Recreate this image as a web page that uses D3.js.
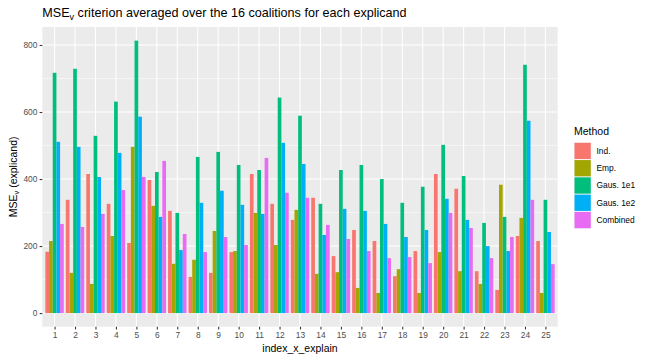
<!DOCTYPE html>
<html>
<head>
<meta charset="utf-8">
<script src="https://cdn.jsdelivr.net/npm/d3@7"></script>
<style>
  html, body { margin: 0; padding: 0; background: #fff; }
  svg { display: block; font-family: "Liberation Sans", Arial, Helvetica, sans-serif; }
</style>
</head>
<body>
<svg id="chart" width="648" height="360"></svg>
<script>
// ---- data ----
const categories = d3.range(1, 26).map(String);
const methods = ["Ind.", "Emp.", "Gaus. 1e1", "Gaus. 1e2", "Combined"];
const colors = ["#F8766D", "#A3A500", "#00BF7D", "#00B0F6", "#E76BF3"];
const indValues  = [183,338,415,326,209,397,305,108,120,182,415,326,278,344,170,248,215,110,185,415,371,125,69,230,215];
const empValues  = [215,120,87,230,496,320,147,159,245,185,299,203,308,117,122,75,60,131,60,182,125,87,383,284,60];
const gaus1Values = [717,729,529,631,813,421,299,466,481,442,427,643,589,326,427,442,400,329,377,502,409,269,287,741,338];
const gaus2Values = [511,496,406,478,586,287,188,329,365,323,296,508,445,233,311,305,266,227,248,341,278,200,185,574,242];
const combValues = [266,257,296,367,406,454,236,182,227,203,463,359,344,263,221,185,164,167,149,299,254,164,227,338,146];
const yTicks = [0, 200, 400, 600, 800];
const yMinor = [100, 300, 500, 700];

const series = [indValues, empValues, gaus1Values, gaus2Values, combValues];

// ---- layout ----
const svg = d3.select("#chart");
const P = { left: 42.3, right: 557.7, top: 27, bottom: 326.7 };
const textCol = "#4D4D4D";

const ymax = d3.max(series.flat());
const y = d3.scaleLinear().domain([-0.05 * ymax, 1.05 * ymax]).range([P.bottom, P.top]);
const x = d3.scaleBand().domain(categories).range([P.left, P.right]).paddingOuter(0.1).paddingInner(0);
// ggplot discrete expansion: 0.6 units each side -> band step w/ outer 0.1 plus half band
const step = (P.right - P.left) / 25.2;
const xc = d => P.left + 0.6 * step + (+d - 1) * step;
const inner = d3.scaleBand().domain(d3.range(5)).range([-0.45 * step, 0.45 * step]);

// panel
svg.append("rect").attr("x", P.left).attr("y", P.top)
  .attr("width", P.right - P.left).attr("height", P.bottom - P.top).attr("fill", "#EBEBEB");

// grid
const g = svg.append("g");
yMinor.forEach(v => g.append("line").attr("x1", P.left).attr("x2", P.right)
  .attr("y1", y(v)).attr("y2", y(v)).attr("stroke", "#fff").attr("stroke-width", 0.53));
yTicks.forEach(v => g.append("line").attr("x1", P.left).attr("x2", P.right)
  .attr("y1", y(v)).attr("y2", y(v)).attr("stroke", "#fff").attr("stroke-width", 1.07));
categories.forEach(c => g.append("line").attr("x1", xc(c)).attr("x2", xc(c))
  .attr("y1", P.top).attr("y2", P.bottom).attr("stroke", "#fff").attr("stroke-width", 1.07));

// bars
series.forEach((vals, si) => {
  svg.append("g").selectAll("rect").data(vals).join("rect")
    .attr("x", (v, i) => xc(categories[i]) + inner(si))
    .attr("width", inner.bandwidth())
    .attr("y", v => y(v))
    .attr("height", v => y(0) - y(v))
    .attr("fill", colors[si]);
});

// y axis
const yAxis = d3.axisLeft(y).tickValues(yTicks).tickSize(2.7).tickPadding(2.2);
const ya = svg.append("g").attr("transform", `translate(${P.left},0)`).call(yAxis);
ya.select(".domain").remove();
ya.selectAll(".tick line").attr("stroke", "#333333").attr("stroke-width", 1.07);
ya.selectAll(".tick text").attr("fill", textCol).attr("font-size", 8.4).attr("font-family", null);

// x axis
const xScaleForAxis = d3.scalePoint().domain(categories).range([xc("1"), xc("25")]);
const xAxis = d3.axisBottom(xScaleForAxis).tickSize(2.7).tickPadding(2.2);
const xa = svg.append("g").attr("transform", `translate(0,${P.bottom})`).call(xAxis);
xa.select(".domain").remove();
xa.selectAll(".tick line").attr("stroke", "#333333").attr("stroke-width", 1.07);
xa.selectAll(".tick text").attr("fill", textCol).attr("font-size", 8.4).attr("font-family", null);

// titles
const title = svg.append("text").attr("x", P.left).attr("y", 17).attr("font-size", 12.6).attr("fill", "#000");
title.append("tspan").text("MSE");
title.append("tspan").attr("dy", 3).attr("font-size", 9).text("v");
title.append("tspan").attr("dy", -3).text(" criterion averaged over the 16 coalitions for each explicand");

svg.append("text").attr("x", (P.left + P.right) / 2).attr("y", 352)
  .attr("text-anchor", "middle").attr("font-size", 10.5).attr("fill", "#000").text("index_x_explain");

const yt = svg.append("text").attr("transform", `translate(16.5,${(P.top + P.bottom) / 2}) rotate(-90)`)
  .attr("text-anchor", "middle").attr("font-size", 10.5).attr("fill", "#000");
yt.append("tspan").text("MSE");
yt.append("tspan").attr("dy", 2.5).attr("font-size", 7.5).text("v");
yt.append("tspan").attr("dy", -2.5).text(" (explicand)");

// legend
const lg = svg.append("g").attr("transform", "translate(574,0)");
lg.append("text").attr("x", 0).attr("y", 135).attr("font-size", 10.5).attr("fill", "#000").text("Method");
const keyH = 17.28, keyTop = 142.3;
methods.forEach((m, i) => {
  lg.append("rect").attr("x", 0).attr("y", keyTop + i * keyH).attr("width", 17.28).attr("height", keyH)
    .attr("fill", "#F2F2F2");
  lg.append("rect").attr("x", 0.5).attr("y", keyTop + i * keyH + 0.5).attr("width", 16.28).attr("height", keyH - 1)
    .attr("fill", colors[i]);
  lg.append("text").attr("x", 22.5).attr("y", keyTop + i * keyH + keyH / 2).attr("dy", "0.35em")
    .attr("font-size", 8.4).attr("fill", "#000").text(m);
});
</script>
</body>
</html>
